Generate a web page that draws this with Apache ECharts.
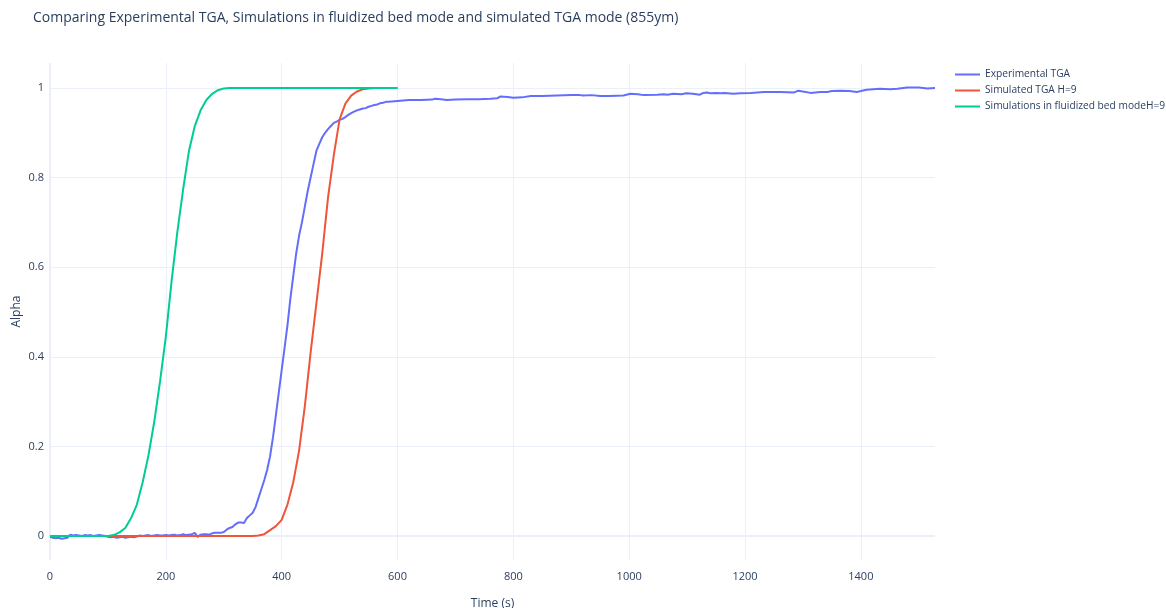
<!DOCTYPE html>
<html>
<head>
<meta charset="utf-8">
<title>TGA comparison</title>
<script src="https://cdn.jsdelivr.net/npm/echarts@6/dist/echarts.min.js"></script>
<style>
  html, body { margin: 0; padding: 0; background: #fff; }
  #chart { width: 1166px; height: 608px; }
</style>
</head>
<body>
<div id="chart"></div>
<script>
// experimental TGA (time in s, conversion alpha)
const expTime = [
  0, 5, 10, 15, 20, 25, 30, 35, 40, 45, 50, 55, 60, 65, 70, 75, 80, 85, 90, 95,
  100, 105, 110, 115, 120, 125, 130, 135, 140, 145, 150, 155, 160, 165, 170, 175, 180, 185, 190, 195,
  200, 205, 210, 215, 220, 225, 230, 235, 240, 245, 250, 255, 260, 265, 270, 275, 280, 285, 290, 295,
  300, 305, 310, 315, 320, 325, 330, 335, 340, 345, 350, 355, 360, 365, 370, 375, 380, 385, 390, 395,
  400, 405, 410, 415, 420, 425, 430, 435, 440, 445, 450, 455, 460, 465, 470, 475, 480, 485, 490, 495,
  500, 505, 510, 515, 520, 525, 530, 535, 540, 545, 550, 555, 560, 565, 570, 575, 580, 585, 590,
  600, 620, 640, 660, 665, 675, 685, 700, 720, 740, 760, 772, 778, 790, 800, 815, 830, 850, 875, 900,
  915, 920, 935, 950, 965, 990, 1002, 1015, 1025, 1048, 1060, 1066, 1076, 1090, 1099, 1110, 1122, 1128, 1134, 1140,
  1150, 1158, 1165, 1180, 1192, 1210, 1232, 1260, 1285, 1292, 1300, 1313, 1330, 1342, 1350, 1364, 1380, 1393, 1400, 1410,
  1433, 1451, 1463, 1480, 1500, 1515, 1528
];
const expAlpha = [
  -0.002, -0.004, -0.005, -0.004, -0.006, -0.005, -0.004, 0.003, 0.001, 0.002, 0.001, 0.000, 0.002, 0.001, 0.002, 0.000, 0.001, 0.002, 0.001, 0.000,
  -0.002, -0.003, -0.002, -0.004, -0.003, -0.002, -0.004, -0.003, -0.002, -0.003, -0.001, 0.001, 0.000, 0.001, 0.002, 0.000, 0.001, 0.002, 0.001, 0.001,
  0.002, 0.001, 0.002, 0.003, 0.001, 0.002, 0.004, 0.002, 0.003, 0.004, 0.007, -0.002, 0.003, 0.004, 0.004, 0.003, 0.006, 0.007, 0.007, 0.007,
  0.009, 0.014, 0.018, 0.020, 0.026, 0.030, 0.030, 0.029, 0.040, 0.046, 0.052, 0.065, 0.085, 0.105, 0.125, 0.148, 0.178, 0.22, 0.27, 0.32,
  0.37, 0.42, 0.47, 0.53, 0.58, 0.63, 0.67, 0.70, 0.735, 0.77, 0.80, 0.83, 0.86, 0.875, 0.89, 0.90, 0.908, 0.915, 0.922, 0.925,
  0.929, 0.931, 0.935, 0.94, 0.944, 0.947, 0.95, 0.952, 0.954, 0.955, 0.958, 0.96, 0.962, 0.963, 0.966, 0.967, 0.969, 0.969, 0.970,
  0.971, 0.973, 0.973, 0.974, 0.976, 0.975, 0.973, 0.974, 0.975, 0.975, 0.976, 0.977, 0.981, 0.980, 0.978, 0.979, 0.982, 0.982, 0.983, 0.984,
  0.984, 0.983, 0.984, 0.982, 0.982, 0.983, 0.987, 0.986, 0.984, 0.985, 0.986, 0.985, 0.987, 0.986, 0.988, 0.987, 0.985, 0.989, 0.990, 0.988,
  0.989, 0.988, 0.989, 0.987, 0.988, 0.989, 0.991, 0.991, 0.990, 0.994, 0.992, 0.989, 0.991, 0.991, 0.993, 0.994, 0.993, 0.991, 0.993, 0.996,
  0.998, 0.997, 0.998, 1.001, 1.001, 0.999, 1.000
];

// simulations, sampled every 10 s
const simTime = [
  0, 10, 20, 30, 40, 50, 60, 70, 80, 90, 100, 110, 120, 130, 140, 150, 160, 170, 180, 190,
  200, 210, 220, 230, 240, 250, 260, 270, 280, 290, 300, 310, 320, 330, 340, 350, 360, 370, 380, 390,
  400, 410, 420, 430, 440, 450, 460, 470, 480, 490, 500, 510, 520, 530, 540, 550, 560, 570, 580, 590, 600
];
const alphaSimTga = [
  0, 0, 0, 0, 0, 0, 0, 0, 0, 0, 0, 0, 0, 0, 0, 0, 0, 0, 0, 0,
  0, 0, 0, 0, 0, 0, 0, 0, 0, 0, 0, 0, 0, 0, 0, 0, 0.001, 0.004, 0.013, 0.022,
  0.036, 0.07, 0.12, 0.19, 0.29, 0.41, 0.52, 0.63, 0.755, 0.85, 0.93, 0.965, 0.983, 0.992, 0.997, 0.999, 1, 1, 1, 1, 1
];
const alphaSimBed = [
  0, 0, 0, 0, 0, 0, 0, 0, 0, 0, 0, 0.002, 0.008, 0.018, 0.04, 0.07, 0.12, 0.18, 0.255, 0.345,
  0.445, 0.57, 0.68, 0.775, 0.86, 0.915, 0.95, 0.973, 0.987, 0.995, 0.999, 1, 1, 1, 1, 1, 1, 1, 1, 1,
  1, 1, 1, 1, 1, 1, 1, 1, 1, 1, 1, 1, 1, 1, 1, 1, 1, 1, 1, 1, 1
];

const seriesNames = ['Experimental TGA', 'Simulated TGA H=9', 'Simulations in fluidized bed modeH=9'];
const colors = ['#636efa', '#EF553B', '#00cc96'];

const textColor = '#2a3f5f';
const gridColor = '#ebf0f8';

function pairs(xs, ys) {
  return xs.map((x, i) => [x, ys[i]]);
}

const chart = echarts.init(document.getElementById('chart'));

chart.setOption({
  animation: false,
  textStyle: { fontFamily: 'Open Sans, sans-serif' },
  color: colors,
  title: {
    text: 'Comparing Experimental TGA, Simulations in fluidized bed mode and simulated TGA mode (855ym)',
    left: 28,
    top: 6,
    textStyle: { color: textColor, fontSize: 14, fontWeight: 'normal', fontFamily: 'Open Sans, sans-serif' },
  },
  legend: {
    orient: 'vertical',
    left: 950,
    top: 63,
    icon: 'rect',
    itemWidth: 25,
    itemHeight: 2,
    itemGap: 3,
    textStyle: { color: textColor, fontSize: 10.2, lineHeight: 13 },
  },
  // keep the plot box fixed, don't let v6 shrink it for axis names
  grid: { left: 50, right: 231, top: 63, bottom: 48, outerBoundsMode: 'none' },
  xAxis: {
    type: 'value',
    min: 0,
    max: 1528,
    interval: 200,
    name: 'Time (s)',
    nameLocation: 'middle',
    nameGap: 38,
    nameTextStyle: { color: textColor, fontSize: 12 },
    axisLine: { show: false, onZero: false },
    axisTick: { show: false },
    axisLabel: { color: textColor, fontSize: 11, margin: 11, showMaxLabel: false, formatter: v => String(v) },
    splitLine: { lineStyle: { color: gridColor, width: 1 }, showMaxLine: false },
  },
  yAxis: {
    type: 'value',
    min: -0.0536,
    max: 1.0557,
    name: 'Alpha',
    nameLocation: 'middle',
    nameGap: 27,
    nameMoveOverlap: false,
    nameTextStyle: { color: textColor, fontSize: 12 },
    axisLine: { show: false },
    axisTick: { show: false },
    axisLabel: { color: textColor, fontSize: 11, margin: 6, showMinLabel: false, showMaxLabel: false },
    splitLine: { lineStyle: { color: gridColor, width: 1 }, showMinLine: false, showMaxLine: false },
  },
  series: [
    {
      name: seriesNames[0],
      type: 'line',
      symbol: 'none',
      lineStyle: { width: 2 },
      data: pairs(expTime, expAlpha),
      // zero lines, like plotly's
      markLine: {
        silent: true,
        symbol: 'none',
        z: 1,
        label: { show: false },
        lineStyle: { color: gridColor, width: 2, type: 'solid' },
        data: [{ yAxis: 0 }, { xAxis: 0 }],
      },
    },
    {
      name: seriesNames[1],
      type: 'line',
      symbol: 'none',
      lineStyle: { width: 2 },
      data: pairs(simTime, alphaSimTga),
    },
    {
      name: seriesNames[2],
      type: 'line',
      symbol: 'none',
      lineStyle: { width: 2 },
      data: pairs(simTime, alphaSimBed),
    },
  ],
});
</script>
</body>
</html>
